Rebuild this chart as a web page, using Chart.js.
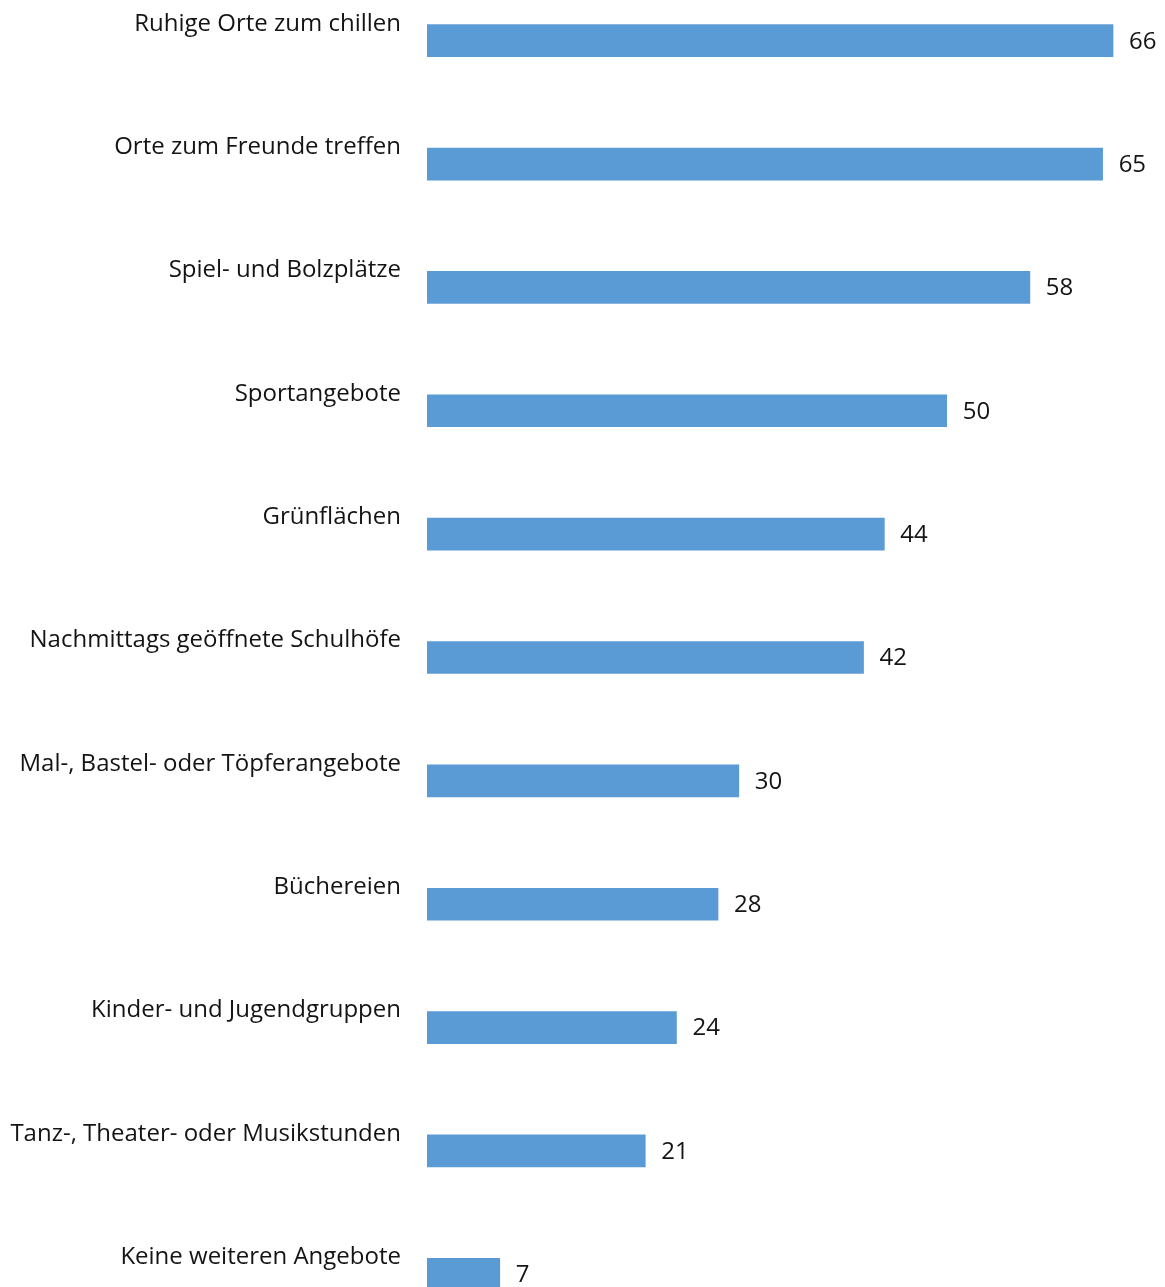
<!DOCTYPE html>
<html lang="de">
<head>
<meta charset="utf-8">
<title>Gewünschte Angebote</title>
<script src="https://cdn.jsdelivr.net/npm/chart.js@4/dist/chart.umd.min.js"></script>
<style>
  html, body { margin: 0; padding: 0; background: #ffffff; overflow: hidden; }
  body { width: 1165px; height: 1287px; position: relative; }
  #chart { position: absolute; left: 0; top: -21px; }
</style>
</head>
<body>
<canvas id="chart" width="1165" height="1357"></canvas>
<script>
// Angebote, die sich Kinder und Jugendliche wünschen (Angaben in Prozent)
const categories = [
  "Ruhige Orte zum chillen",
  "Orte zum Freunde treffen",
  "Spiel- und Bolzplätze",
  "Sportangebote",
  "Grünflächen",
  "Nachmittags geöffnete Schulhöfe",
  "Mal-, Bastel- oder Töpferangebote",
  "Büchereien",
  "Kinder- und Jugendgruppen",
  "Tanz-, Theater- oder Musikstunden",
  "Keine weiteren Angebote"
];
const values = [66, 65, 58, 50, 44, 42, 30, 28, 24, 21, 7];

const FONT = "'Open Sans', 'Noto Sans', sans-serif";
const TEXT_COLOR = "#141414";

// Zahlenwerte rechts neben jedem Balken
const valueLabels = {
  id: "valueLabels",
  afterDatasetsDraw(chart) {
    const ctx = chart.ctx;
    const meta = chart.getDatasetMeta(0);
    ctx.save();
    ctx.font = "24px " + FONT;
    ctx.fillStyle = TEXT_COLOR;
    ctx.textAlign = "left";
    ctx.textBaseline = "middle";
    meta.data.forEach((bar, i) => {
      ctx.fillText(String(values[i]), bar.x + 16, bar.y + 1);
    });
    ctx.restore();
  }
};

new Chart(document.getElementById("chart"), {
  type: "bar",
  data: {
    labels: categories,
    datasets: [{
      data: values,
      backgroundColor: "#5b9bd5",
      borderWidth: 0,
      barThickness: 32
    }]
  },
  options: {
    indexAxis: "y",
    responsive: false,
    animation: false,
    devicePixelRatio: 1,
    layout: { padding: 0 },
    plugins: {
      legend: { display: false },
      tooltip: { enabled: false }
    },
    scales: {
      x: {
        display: false,
        min: 0,
        max: 71
      },
      y: {
        grid: { display: false, drawTicks: false },
        border: { display: false },
        ticks: {
          color: TEXT_COLOR,
          font: { family: FONT, size: 24 },
          padding: 26,
          labelOffset: -17,
          autoSkip: false
        },
        afterFit(scale) {
          scale.width = 427;
          // the category bands fill the full canvas height
          scale.paddingTop = 0;
          scale.paddingBottom = 0;
        }
      }
    }
  },
  plugins: [valueLabels]
});
</script>
</body>
</html>
